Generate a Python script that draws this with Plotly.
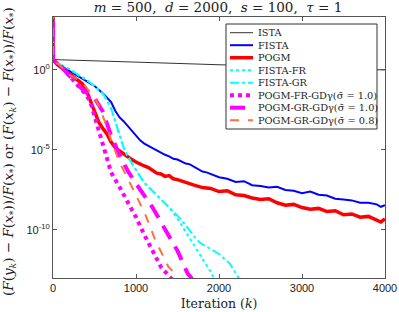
import plotly.graph_objects as go

# ---- data (log10 of relative error) ----
ista_k = [0, 1, 1000, 2000, 3000, 4000]
ista_v = [6, 0.65, 0.49, 0.33, 0.17, 0.0]

fista_k = [0, 1, 50, 100, 200, 300, 400, 500, 600, 650, 700, 750, 800, 850, 900, 950, 1000,
           1050, 1100, 1150, 1200, 1250, 1300, 1350, 1400, 1450, 1500, 1550, 1600, 1650, 1700,
           1750, 1800, 1850, 1900, 1950, 2000, 2100, 2200, 2300, 2400, 2500, 2600, 2700, 2800,
           2900, 3000, 3100, 3200, 3300, 3400, 3500, 3600, 3700, 3800, 3900, 3950, 4000]
fista_v = [6, 0.63, 0.4, 0.25, -0.05, -0.4, -0.7, -1.0, -1.45, -1.7, -2.0, -2.55, -2.95, -3.2,
           -3.5, -3.85, -4.1, -4.4, -4.6, -4.75, -4.9, -5.05, -5.15, -5.3, -5.4, -5.55, -5.6,
           -5.75, -5.85, -5.9, -6.05, -6.2, -6.35, -6.4, -6.5, -6.55, -6.7, -6.8, -7.0, -6.95,
           -7.2, -7.25, -7.35, -7.3, -7.5, -7.55, -7.7, -7.6, -7.8, -7.85, -8.05, -8.1, -8.15,
           -8.3, -8.3, -8.4, -8.55, -8.45]

pogm_k = [0, 1, 50, 100, 200, 300, 350, 400, 450, 500, 550, 600, 650, 700, 750, 800, 850, 900,
          950, 1000, 1050, 1100, 1150, 1200, 1250, 1300, 1350, 1400, 1450, 1500, 1600, 1700,
          1800, 1900, 2000, 2100, 2200, 2300, 2400, 2500, 2600, 2700, 2800, 2900, 3000, 3100,
          3200, 3300, 3400, 3500, 3600, 3700, 3800, 3900, 3950, 4000]
pogm_v = [6, 0.63, 0.35, 0.15, -0.3, -0.65, -0.85, -1.25, -1.95, -2.65, -3.25, -3.65, -4.0,
          -4.5, -4.85, -5.05, -5.25, -5.45, -5.6, -5.75, -5.9, -6.0, -6.1, -6.25, -6.45, -6.5,
          -6.65, -6.6, -6.8, -6.85, -7.05, -7.2, -7.35, -7.4, -7.6, -7.55, -7.8, -7.85, -8.0,
          -8.1, -8.05, -8.3, -8.45, -8.4, -8.6, -8.7, -8.65, -8.85, -8.8, -9.05, -9.0, -9.2,
          -9.15, -9.4, -9.5, -9.3]

fr_k = [0, 1, 100, 200, 300, 400, 500, 600, 650, 700, 750, 800, 850, 900, 950, 1000, 1100,
        1200, 1300, 1400, 1500, 1600, 1700, 1800, 1900, 1950]
fr_v = [6, 0.63, 0.3, 0.05, -0.3, -0.6, -1.0, -1.45, -1.9, -2.4, -3.2, -4.0, -4.85, -5.4,
        -5.85, -6.25, -7.05, -7.55, -8.1, -8.6, -9.3, -10.1, -10.95, -11.8, -12.6, -13.1]

gr_k = [0, 1, 100, 200, 300, 400, 500, 600, 650, 700, 750, 800, 850, 900, 950, 1000, 1100,
        1200, 1300, 1400, 1500, 1600, 1700, 1770, 1900, 2000, 2130, 2250]
gr_v = [6, 0.63, 0.3, 0.05, -0.3, -0.6, -1.0, -1.45, -1.9, -2.4, -3.2, -4.0, -4.85, -5.4,
        -5.85, -6.25, -7.05, -7.55, -8.1, -8.6, -9.1, -9.7, -10.4, -10.8, -11.2, -11.5, -12.1,
        -13.1]

pfr_k = [0, 1, 100, 200, 300, 400, 450, 500, 550, 600, 700, 800, 900, 1000, 1100, 1200, 1300,
         1400, 1440]
pfr_v = [6, 0.63, 0.2, -0.4, -0.95, -1.55, -2.0, -2.9, -3.85, -4.75, -6.4, -7.3, -8.25, -9.2,
         -10.3, -11.35, -12.3, -12.9, -13.1]

pgr_k = [0, 1, 100, 200, 300, 400, 500, 600, 650, 700, 800, 900, 1000, 1100, 1200, 1300, 1400,
         1500, 1570, 1620, 1660, 1690]
pgr_v = [6, 0.63, 0.2, -0.35, -0.95, -1.4, -1.75, -2.6, -3.3, -4.1, -5.3, -6.3, -7.1, -7.8,
         -8.6, -9.5, -10.4, -11.3, -12.1, -12.7, -12.95, -13.2]

pgr8_k = [0, 1, 100, 200, 350, 500, 550, 650, 700, 800, 930, 1030, 1110, 1230, 1330, 1390,
          1440, 1475, 1510]
pgr8_v = [6, 0.63, 0.2, -0.3, -0.75, -1.75, -2.2, -3.55, -4.4, -5.75, -7.1, -8.1, -9.0, -10.6,
          -11.7, -12.3, -12.55, -12.75, -13.1]

names = ["ISTA", "FISTA", "POGM", "FISTA-FR", "FISTA-GR",
         "POGM-FR-GDγ(σ\u0304 = 1.0)", "POGM-GR-GDγ(σ\u0304 = 1.0)", "POGM-GR-GDγ(σ\u0304 = 0.8)"]

series = [(ista_k, ista_v), (fista_k, fista_v), (pogm_k, pogm_v), (fr_k, fr_v), (gr_k, gr_v),
          (pfr_k, pfr_v), (pgr_k, pgr_v), (pgr8_k, pgr8_v)]

styles = [
    dict(color="#333333", width=1, dash="solid"),
    dict(color="#0000ff", width=2, dash="solid"),
    dict(color="#ff0000", width=3.5, dash="solid"),
    dict(color="#00ffff", width=2, dash="dot"),
    dict(color="#00ffff", width=2, dash="dashdot"),
    dict(color="#ff00ff", width=4, dash="dot"),
    dict(color="#ff00ff", width=4, dash="15px,9px"),
    dict(color="#ff6f3f", width=2, dash="dash"),
]

SERIF = "DejaVu Serif, Liberation Serif"
TXT = "#222222"

fig = go.Figure()
for name, (k, v), st in zip(names, series, styles):
    fig.add_trace(go.Scatter(x=k, y=[10 ** e for e in v], mode="lines", name=name, line=st,
                             showlegend=False))

axis_common = dict(showline=True, linecolor="#555555", linewidth=1, mirror="ticks",
                   ticks="inside", ticklen=4, tickcolor="#555555", showgrid=False, zeroline=False,
                   automargin=False,
                   tickfont=dict(family="Liberation Sans, Arial", size=11, color=TXT))

W, H = 399, 312
ML, MR, MT, MB = 53, 14, 17, 34
PW, PH = W - ML - MR, H - MT - MB

fig.update_layout(
    width=W, height=H,
    margin=dict(l=ML, r=MR, t=MT, b=MB),
    paper_bgcolor="white", plot_bgcolor="white",
    title=dict(text="<i>m</i> = 500,  <i>d</i> = 2000,  <i>s</i> = 100,  <i>τ</i> = 1",
               xref="container", x=218 / W, xanchor="center",
               y=1 - 7 / H, yanchor="middle",
               font=dict(family=SERIF, size=13.5, color=TXT)),
    xaxis=dict(range=[0, 4000], tickvals=[0, 1000, 2000, 3000, 4000],
               title=dict(text="Iteration (<i>k</i>)", standoff=6,
                          font=dict(family=SERIF, size=12.5, color=TXT)),
               **axis_common),
    yaxis=dict(type="log", range=[-13.0, 3.31], tickvals=[1, 1e-5, 1e-10],
               ticktext=["10<sup>0</sup>", "10<sup>-5</sup>", "10<sup>-10</sup>"],
               **axis_common),
)

fig.add_annotation(
    text="(<i>F</i>(<i>y<sub>k</sub></i>) − <i>F</i>(<i>x</i><sub>*</sub>))/<i>F</i>(<i>x</i><sub>*</sub>) or "
         "(<i>F</i>(<i>x<sub>k</sub></i>) − <i>F</i>(<i>x</i><sub>*</sub>))/<i>F</i>(<i>x</i><sub>*</sub>)",
    xref="paper", yref="paper", x=(9 - ML) / PW, y=(H - MB - 152) / PH,
    xanchor="center", yanchor="middle",
    textangle=-90, showarrow=False,
    font=dict(family=SERIF, size=13.5, color=TXT))


# ---- legend drawn as a box of samples (pixel layout converted to paper coords) ----
def px(xp):
    return (xp - ML) / PW


def py(yp):
    return (H - MB - yp) / PH


box_l, box_r, box_t, box_b = 226, 377, 24, 129
fig.add_shape(type="rect", xref="paper", yref="paper", x0=px(box_l), x1=px(box_r),
              y0=py(box_b), y1=py(box_t), line=dict(color="#333333", width=1),
              fillcolor="white", layer="above")
row0, row_h = 32.7, 12.5
for i, (name, st) in enumerate(zip(names, styles)):
    yc = row0 + i * row_h
    fig.add_shape(type="line", xref="paper", yref="paper", x0=px(230), x1=px(253),
                  y0=py(yc), y1=py(yc), line=st, layer="above")
    fig.add_annotation(text=name, xref="paper", yref="paper", x=px(255.5), y=py(yc),
                       xanchor="left", yanchor="middle", showarrow=False,
                       font=dict(family=SERIF, size=9.8, color=TXT))

fig.write_html("out.html", config={"displayModeBar": False},
               post_script="document.body.style.margin='0';document.body.style.overflow='hidden';")
